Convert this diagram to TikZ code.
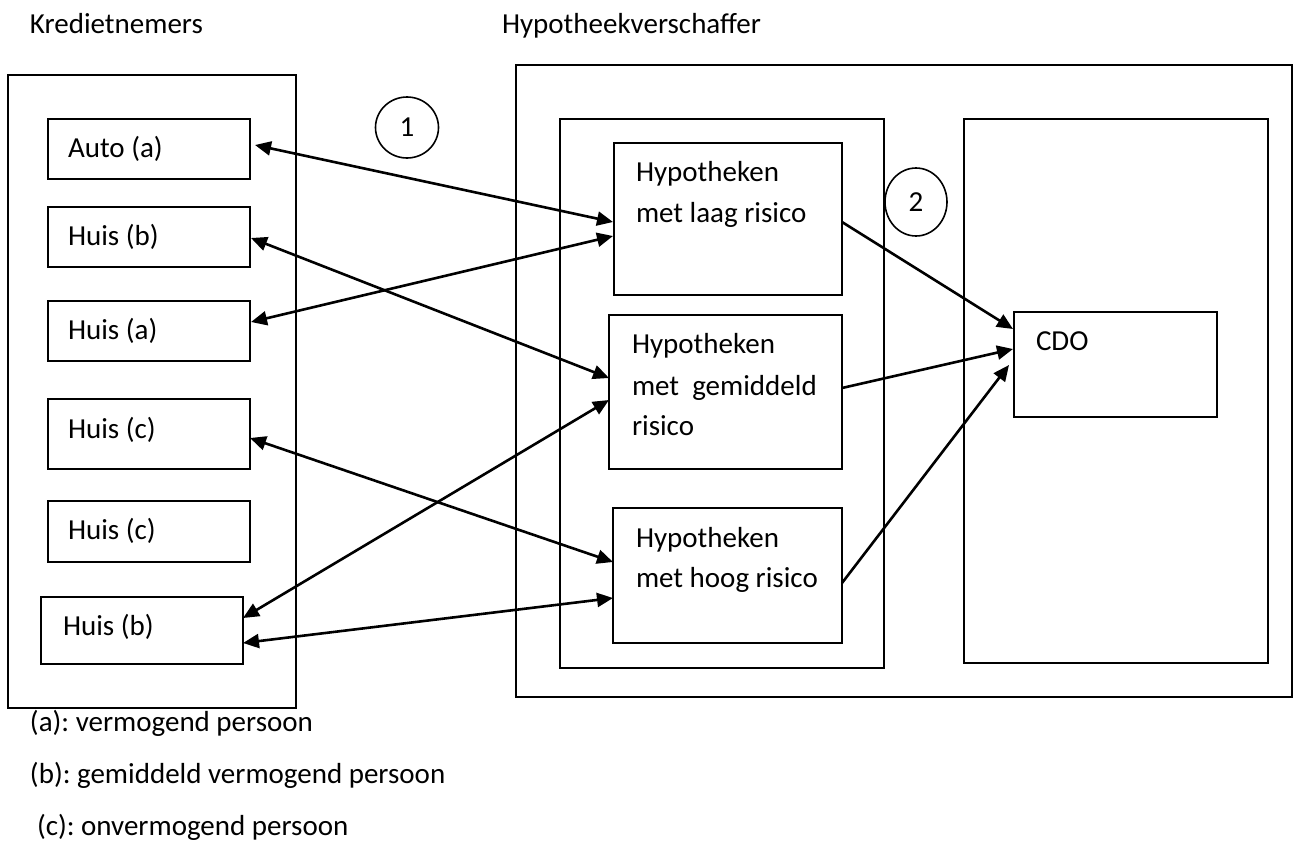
\documentclass[tikz,border=0pt]{standalone}
\usepackage{fontspec}
\setmainfont{Carlito}
\frenchspacing
\usetikzlibrary{arrows.meta,shapes.geometric}
\begin{document}
\begin{tikzpicture}[x=1pt,y=-1pt,
  box/.style={draw=black,line width=1.7pt,rectangle,inner sep=0pt,outer sep=0pt},
  txt/.style={inner sep=0pt,outer sep=0pt,anchor=base west,font=\fontsize{29}{34}\selectfont},
  ring/.style={draw=black,line width=1.6pt,ellipse,inner sep=0pt,font=\fontsize{29}{34}\selectfont},
  arr/.style={line width=2.6pt,{Triangle[length=16pt,width=14pt]}-{Triangle[length=16pt,width=14pt]}},
  arrone/.style={line width=2.6pt,-{Triangle[length=16pt,width=14pt]}}]
\useasboundingbox[fill=white] (0,0) rectangle (1294,846);
% titles
\node[txt] (tk) at (30,33) {Kredietnemers};
\node[txt] (th) at (502,33) {Hypotheekverschaffer};
% containers
\node[box,minimum width=288,minimum height=633] (left) at (152,391.5) {};
\node[box,minimum width=776,minimum height=632] (hyp) at (904,381) {};
\node[box,minimum width=324,minimum height=549] (mid) at (722,393.5) {};
\node[box,minimum width=304,minimum height=544] (right) at (1116,391) {};
% borrowers
\node[box,minimum width=202,minimum height=60] (auto) at (149,149) {};
\node[box,minimum width=202,minimum height=60] (hb1) at (149,237) {};
\node[box,minimum width=202,minimum height=60] (ha) at (149,331) {};
\node[box,minimum width=202,minimum height=70] (hc1) at (149,434) {};
\node[box,minimum width=202,minimum height=61] (hc2) at (149,531.5) {};
\node[box,minimum width=202,minimum height=67] (hb2) at (142,630.5) {};
\node[txt] at (68,157) {Auto (a)};
\node[txt] at (68,245) {Huis (b)};
\node[txt] at (68,339) {Huis (a)};
\node[txt] at (68,438) {Huis (c)};
\node[txt] at (68,539) {Huis (c)};
\node[txt] at (63,635) {Huis (b)};
% mortgages
\node[box,minimum width=228,minimum height=152] (laag) at (728,219) {};
\node[box,minimum width=233,minimum height=154] (gem) at (725.5,392) {};
\node[box,minimum width=229,minimum height=135] (hoog) at (727.5,575.5) {};
\node[txt] at (636,181) {Hypotheken};
\node[txt] at (636,222) {met laag risico};
\node[txt] at (632,353) {Hypotheken};
\node[txt] at (632,395) {met\ \ gemiddeld};
\node[txt] at (632,435) {risico};
\node[txt] at (636,547) {Hypotheken};
\node[txt] at (636,587) {met hoog risico};
% CDO
\node[box,minimum width=203,minimum height=105] (cdo) at (1115.5,364.5) {};
\node[txt] at (1036,350) {CDO};
% step markers
\node[ring,minimum width=63,minimum height=61] (c1) at (407,127.5) {1};
\node[ring,minimum width=62,minimum height=68] (c2) at (916,202) {2};
% connectors
\draw[arr] ([shift={(5,-4)}]auto.east) -- ([shift={(-1,3)}]laag.west);
\draw[arr] ([shift={(1,1)}]hb1.east) -- ([shift={(0,-14)}]gem.west);
\draw[arr] ([shift={(1,-9)}]ha.east) -- ([shift={(-1,17)}]laag.west);
\draw[arr] ([shift={(0,4)}]hc1.east) -- ([shift={(0,-13.5)}]hoog.west);
\draw[arr] ([shift={(0,-12.5)}]hb2.east) -- ([shift={(0,8)}]gem.west);
\draw[arr] ([shift={(0,12.5)}]hb2.east) -- ([shift={(0,22.5)}]hoog.west);
\draw[arrone] ([shift={(0,3)}]laag.east) -- ([shift={(-1,-35.5)}]cdo.west);
\draw[arrone] ([shift={(0,-4)}]gem.east) -- ([shift={(-1,-15.5)}]cdo.west);
\draw[arrone] ([shift={(0,7.5)}]hoog.east) -- ([shift={(-5,0.5)}]cdo.west);
% legend
\node[txt] at (30,731) {(a): vermogend persoon};
\node[txt] at (30,783) {(b): gemiddeld vermogend persoon};
\node[txt] at (37,835) {(c): onvermogend persoon};
\end{tikzpicture}
\end{document}
